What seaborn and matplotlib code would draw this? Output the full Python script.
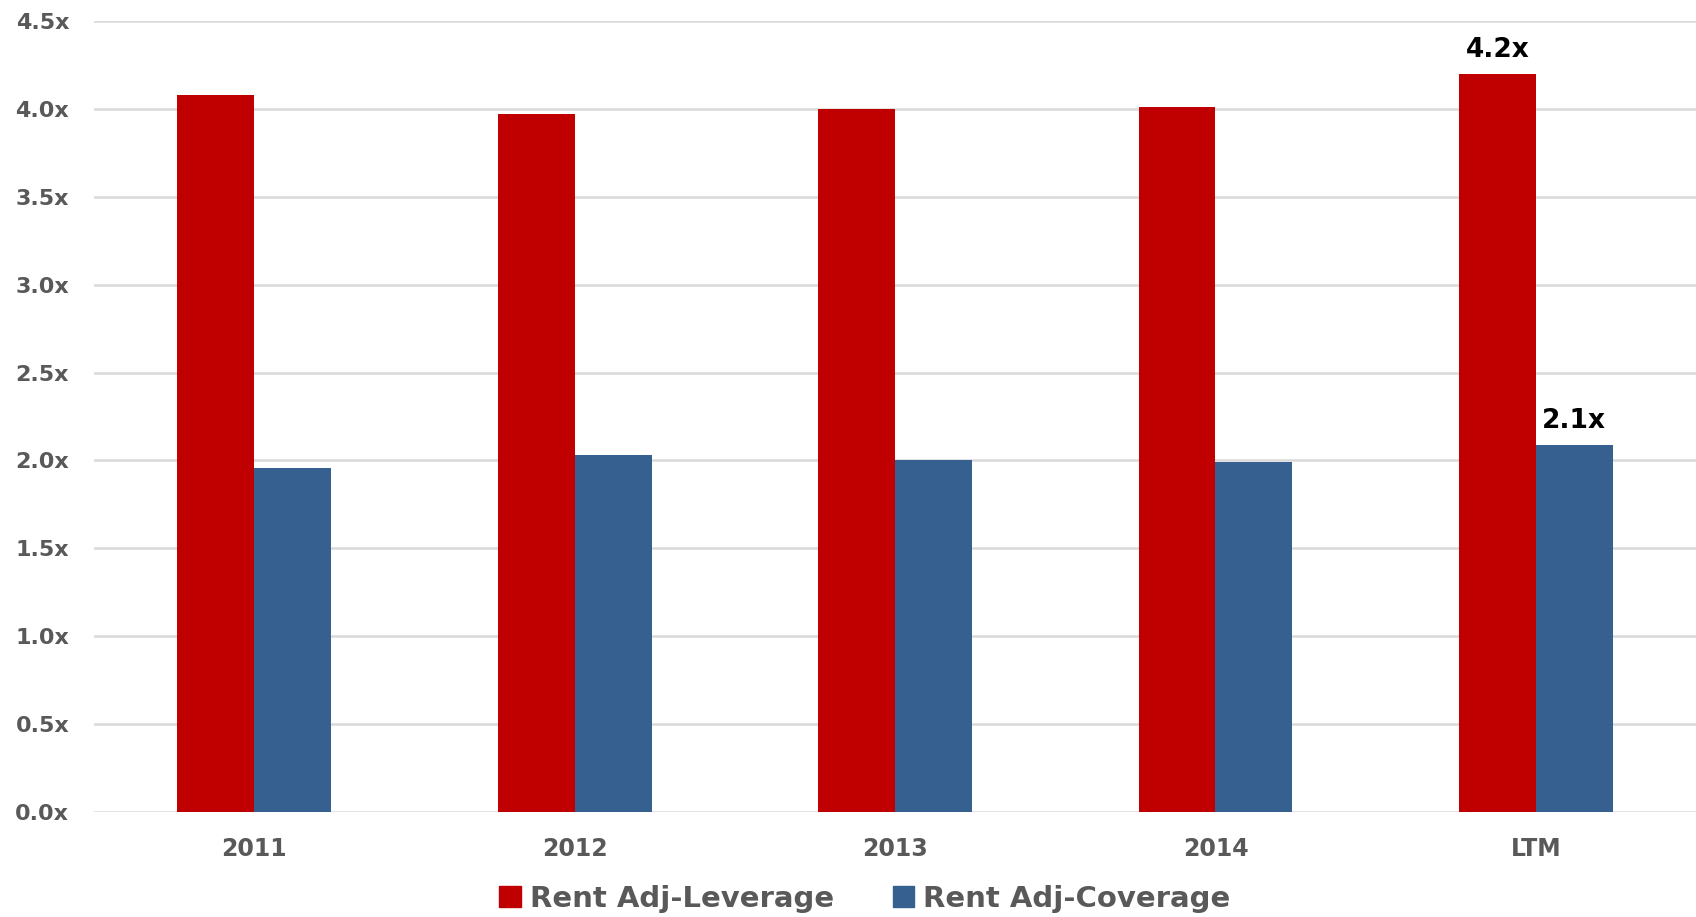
import pandas as pd
import seaborn as sns
import matplotlib.pyplot as plt

periods = ["2011", "2012", "2013", "2014", "LTM"]
leverage = [4.08, 3.97, 4.00, 4.01, 4.20]
coverage = [1.96, 2.03, 2.00, 1.99, 2.09]
series_names = ["Rent Adj-Leverage", "Rent Adj-Coverage"]
colors = ["#C00000", "#36608F"]
yticks = [0.0, 0.5, 1.0, 1.5, 2.0, 2.5, 3.0, 3.5, 4.0, 4.5]

df = pd.DataFrame({
    "period": periods * 2,
    "value": leverage + coverage,
    "series": [series_names[0]] * len(periods) + [series_names[1]] * len(periods),
})

sns.set_theme(style="white")
plt.rcParams["font.family"] = ["DejaVu Sans"]
grey = "#595959"

fig = plt.figure(figsize=(16.96, 9.17), dpi=100)
ax = fig.add_axes([0.0555, 0.1145, 0.9445, 0.8625])

sns.barplot(data=df, x="period", y="value", hue="series", order=periods,
            hue_order=series_names, palette=colors, width=0.48,
            saturation=1, edgecolor="none", ax=ax)

ax.set_ylim(0, 4.5)
ax.set_xlim(-0.5, 4.5)
ax.set_yticks(yticks)
ax.set_yticklabels([f"{t:.1f}x" for t in yticks], fontsize=16, fontweight="bold", color=grey)
ax.tick_params(axis="x", labelsize=17, labelcolor=grey, length=0, pad=18)
ax.tick_params(axis="y", length=0, pad=18)
for lbl in ax.get_xticklabels():
    lbl.set_fontweight("bold")
ax.yaxis.grid(True, color="#d9d9d9", linewidth=1.8)
ax.set_axisbelow(True)
for s in ax.spines.values():
    s.set_visible(False)
ax.set_xlabel("")
ax.set_ylabel("")

# labels only on the LTM bars
for cont in ax.containers:
    bar = cont[-1]
    h = bar.get_height()
    ax.annotate(f"{h:.1f}x", (bar.get_x() + bar.get_width() / 2, h),
                xytext=(0, 8), textcoords="offset points", ha="center", va="bottom",
                fontsize=19, fontweight="bold", color="black")

ax.legend_.remove()
handles = [plt.Rectangle((0, 0), 1, 1, color=c) for c in colors]
fig.legend(handles, series_names, loc="lower center", bbox_to_anchor=(0.51, -0.024),
           ncol=2, frameon=False, handlelength=0.75, handleheight=0.75, handletextpad=0.3,
           columnspacing=2.0, prop={"size": 21, "weight": "bold"}, labelcolor=grey)

fig.savefig("out.png", dpi=100)
